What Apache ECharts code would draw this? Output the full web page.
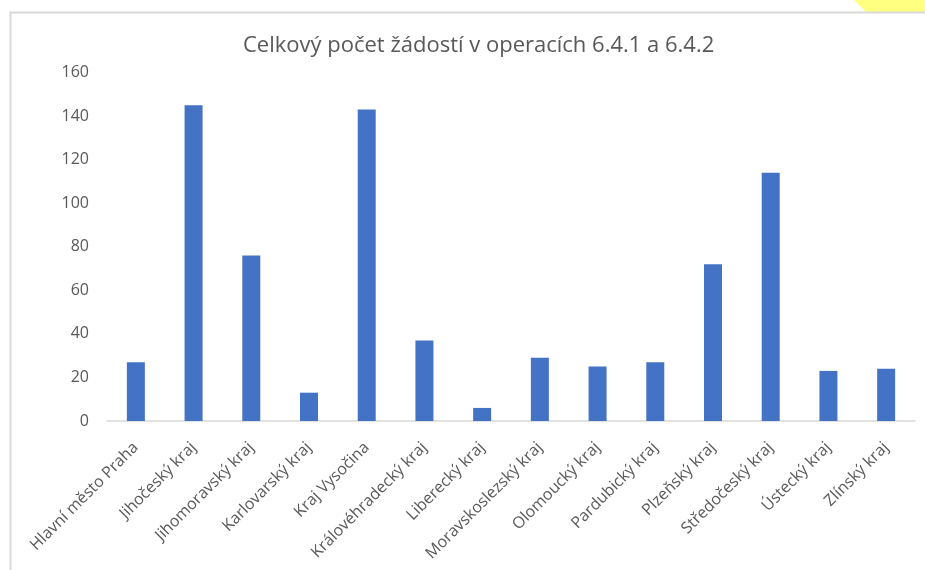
<!DOCTYPE html>
<html>
<head>
<meta charset="utf-8">
<script src="https://cdn.jsdelivr.net/npm/echarts@6/dist/echarts.min.js"></script>
<style>
html,body{margin:0;padding:0;background:#fff;}
#c{width:925px;height:570px;}
</style>
</head>
<body>
<div id="c"></div>
<script>
const categories = ["Hlavní město Praha","Jihočeský kraj","Jihomoravský kraj","Karlovarský kraj","Kraj Vysočina","Královéhradecký kraj","Liberecký kraj","Moravskoslezský kraj","Olomoucký kraj","Pardubický kraj","Plzeňský kraj","Středočeský kraj","Ústecký kraj","Zlínský kraj"];
const values = [27,145,76,13,143,37,6,29,25,27,72,114,23,24];
const yTicks = {min:0, max:160, interval:20};
const titleText = "Celkový počet žádostí v operacích 6.4.1 a 6.4.2";

const chart = echarts.init(document.getElementById('c'), null, {renderer:'canvas'});
chart.setOption({
  animation:false,
  backgroundColor:'#ffffff',
  title:{
    text:titleText,
    left:238,
    top:30,
    textStyle:{fontFamily:'Open Sans',fontSize:22,fontWeight:'normal',color:'#595959'}
  },
  grid:{left:107,right:10,top:72.5,bottom:149,containLabel:false},
  xAxis:{
    type:'category',
    data:categories,
    axisLine:{lineStyle:{color:'#d9d9d9',width:1.5}},
    axisTick:{show:false},
    axisLabel:{rotate:45,interval:0,margin:24,color:'#595959',fontFamily:'Open Sans',fontSize:16}
  },
  yAxis:{
    type:'value',
    min:yTicks.min,max:yTicks.max,interval:yTicks.interval,
    axisLine:{show:false},
    axisTick:{show:false},
    splitLine:{show:false},
    axisLabel:{margin:18,color:'#595959',fontFamily:'Open Sans',fontSize:16}
  },
  series:[{
    type:'bar',
    data:values,
    barWidth:18,
    itemStyle:{color:'#4472c4'}
  }],
  graphic:[
    {type:'polygon',shape:{points:[[854,0],[925,0],[925,12],[866,12]]},style:{fill:'#ffff80'},z:10},
    {type:'rect',shape:{x:10.5,y:12.5,width:930,height:570},style:{fill:'none',stroke:'#d9d9d9',lineWidth:2},z:10}
  ]
});
</script>
</body>
</html>
